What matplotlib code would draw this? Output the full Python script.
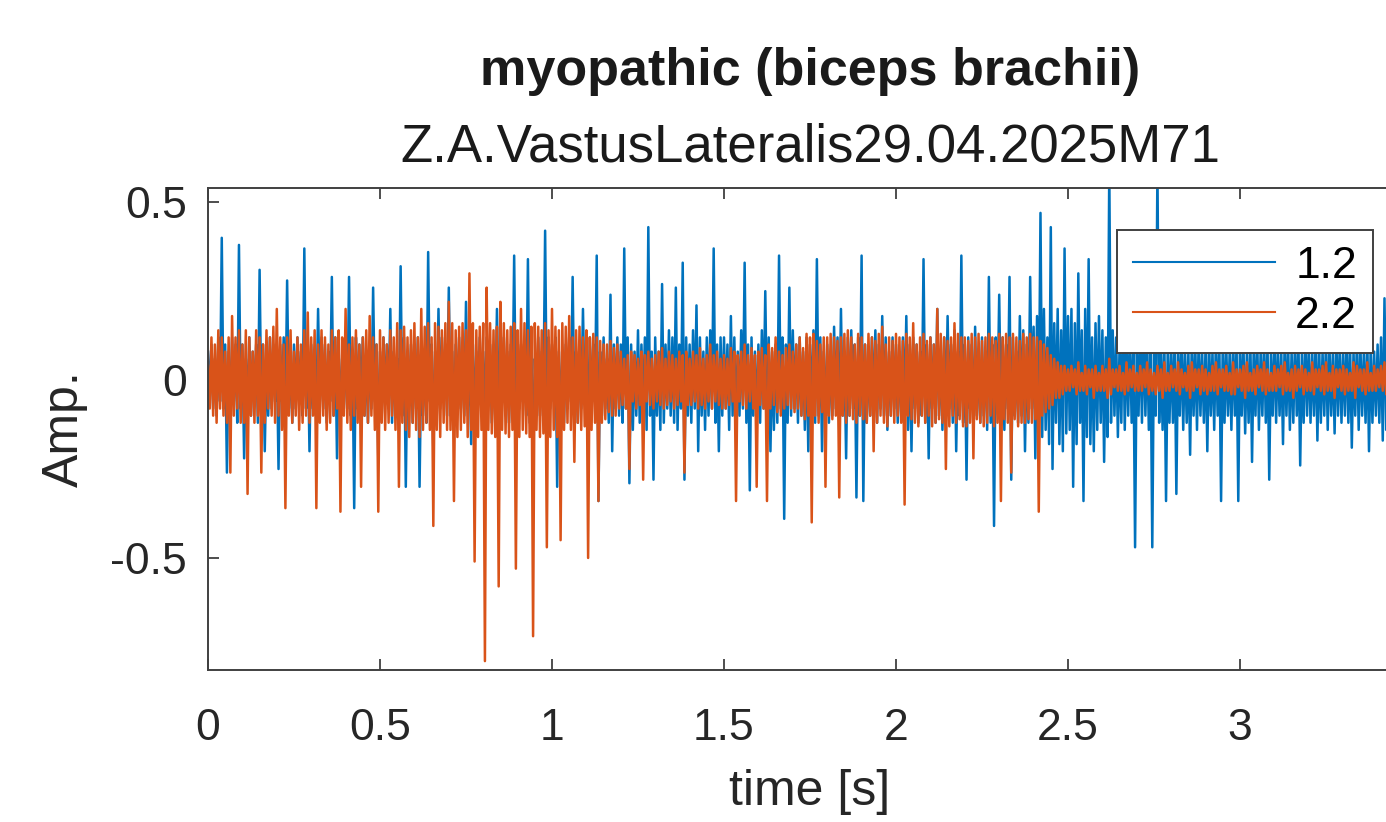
import numpy as np
import matplotlib
matplotlib.use("Agg")
import matplotlib.pyplot as plt

# --- サンプリング ---
fs = 200  # Hz (画像から読み取った値、0.1 s ごとに 1 行)

# --- チャンネル 1.2（青） ---
ch_12 = [
    0.08, -0.05, 0.10, -0.08, 0.06, -0.10, 0.12, -0.06, 0.40, -0.08, 0.10, -0.26, 0.08, -0.10, 0.12, -0.06, 0.10, -0.12, 0.38, -0.08,
    0.10, -0.22, 0.06, -0.08, 0.12, -0.10, 0.08, -0.06, 0.10, -0.12, 0.31, -0.08, 0.10, -0.20, 0.06, -0.10, 0.12, -0.08, 0.10, -0.06,
    0.08, -0.25, 0.10, -0.06, 0.12, -0.10, 0.28, -0.08, 0.06, -0.12, 0.10, -0.08, 0.12, -0.06, 0.08, -0.10, 0.37, -0.08, 0.10, -0.20,
    0.10, -0.08, 0.06, -0.10, 0.20, -0.06, 0.12, -0.08, 0.10, -0.12, 0.08, -0.06, 0.29, -0.10, 0.12, -0.22, 0.08, -0.10, 0.06, -0.08,
    0.10, -0.08, 0.29, -0.10, 0.06, -0.36, 0.12, -0.08, 0.10, -0.06, 0.12, -0.10, 0.08, -0.12, 0.10, -0.08, 0.26, -0.06, 0.10, -0.22,
    0.08, -0.10, 0.12, -0.06, 0.10, -0.08, 0.20, -0.12, 0.08, -0.10, 0.06, -0.08, 0.32, -0.10, 0.12, -0.30, 0.08, -0.06, 0.10, -0.12,
    0.10, -0.08, 0.12, -0.30, 0.06, -0.10, 0.08, -0.12, 0.36, -0.06, 0.10, -0.20, 0.08, -0.10, 0.20, -0.08, 0.12, -0.06, 0.10, -0.10,
    0.26, -0.10, 0.08, -0.12, 0.10, -0.06, 0.12, -0.08, 0.10, -0.10, 0.22, -0.08, 0.06, -0.18, 0.10, -0.12, 0.08, -0.06, 0.12, -0.10,
    0.08, -0.10, 0.12, -0.06, 0.10, -0.12, 0.08, -0.10, 0.20, -0.08, 0.10, -0.06, 0.12, -0.10, 0.08, -0.12, 0.10, -0.08, 0.35, -0.10,
    0.12, -0.08, 0.10, -0.06, 0.08, -0.10, 0.34, -0.12, 0.10, -0.25, 0.06, -0.08, 0.12, -0.10, 0.08, -0.06, 0.42, -0.10, 0.12, -0.08,
    0.10, -0.06, 0.12, -0.30, 0.08, -0.10, 0.06, -0.12, 0.10, -0.08, 0.12, -0.06, 0.29, -0.10, 0.08, -0.12, 0.10, -0.08, 0.20, -0.06,
    0.08, -0.10, 0.12, -0.08, 0.10, -0.06, 0.35, -0.34, 0.08, -0.10, 0.12, -0.08, 0.06, -0.12, 0.24, -0.20, 0.10, -0.08, 0.12, -0.10,
    0.10, -0.12, 0.37, -0.08, 0.12, -0.29, 0.10, -0.14, 0.08, -0.10, 0.14, -0.12, 0.10, -0.08, 0.12, -0.14, 0.43, -0.10, 0.08, -0.28,
    0.12, -0.10, 0.08, -0.14, 0.27, -0.12, 0.10, -0.08, 0.14, -0.10, 0.12, -0.12, 0.26, -0.14, 0.10, -0.08, 0.33, -0.28, 0.12, -0.10,
    0.10, -0.12, 0.14, -0.08, 0.21, -0.20, 0.12, -0.10, 0.08, -0.14, 0.12, -0.10, 0.14, -0.08, 0.37, -0.12, 0.10, -0.20, 0.12, -0.10,
    0.12, -0.08, 0.10, -0.14, 0.18, -0.10, 0.12, -0.12, 0.08, -0.10, 0.14, -0.08, 0.33, -0.12, 0.10, -0.31, 0.12, -0.10, 0.08, -0.14,
    0.10, -0.12, 0.14, -0.08, 0.25, -0.10, 0.12, -0.20, 0.08, -0.14, 0.10, -0.12, 0.35, -0.08, 0.12, -0.39, 0.10, -0.12, 0.26, -0.10,
    0.14, -0.08, 0.10, -0.12, 0.12, -0.10, 0.08, -0.14, 0.12, -0.20, 0.10, -0.08, 0.14, -0.12, 0.34, -0.10, 0.12, -0.20, 0.08, -0.12,
    0.10, -0.12, 0.08, -0.10, 0.15, -0.08, 0.12, -0.14, 0.20, -0.10, 0.08, -0.22, 0.12, -0.10, 0.14, -0.08, 0.10, -0.33, 0.12, -0.10,
    0.35, -0.34, 0.10, -0.12, 0.08, -0.10, 0.12, -0.08, 0.14, -0.12, 0.10, -0.08, 0.18, -0.10, 0.12, -0.14, 0.08, -0.10, 0.12, -0.08,
    0.10, -0.12, 0.08, -0.10, 0.12, -0.08, 0.18, -0.14, 0.10, -0.20, 0.12, -0.08, 0.10, -0.12, 0.08, -0.10, 0.34, -0.12, 0.10, -0.22,
    0.12, -0.08, 0.10, -0.12, 0.20, -0.10, 0.08, -0.14, 0.12, -0.10, 0.18, -0.08, 0.10, -0.12, 0.14, -0.20, 0.08, -0.10, 0.35, -0.12,
    0.10, -0.28, 0.12, -0.08, 0.10, -0.14, 0.15, -0.10, 0.08, -0.12, 0.12, -0.10, 0.08, -0.14, 0.29, -0.12, 0.10, -0.41, 0.12, -0.08,
    0.24, -0.10, 0.12, -0.14, 0.10, -0.08, 0.29, -0.28, 0.12, -0.10, 0.08, -0.12, 0.18, -0.10, 0.14, -0.20, 0.10, -0.12, 0.29, -0.08,
    0.15, -0.22, 0.18, -0.12, 0.47, -0.16, 0.20, -0.14, 0.12, -0.18, 0.43, -0.25, 0.16, -0.12, 0.20, -0.18, 0.14, -0.20, 0.37, -0.15,
    0.18, -0.14, 0.20, -0.30, 0.16, -0.18, 0.30, -0.12, 0.14, -0.34, 0.20, -0.16, 0.34, -0.18, 0.12, -0.20, 0.16, -0.14, 0.18, -0.12,
    0.14, -0.23, 0.12, -0.16, 0.60, -0.12, 0.14, -0.10, 0.12, -0.16, 0.10, -0.12, 0.20, -0.14, 0.12, -0.10, 0.14, -0.12, 0.10, -0.47,
    0.12, -0.10, 0.14, -0.12, 0.15, -0.10, 0.12, -0.14, 0.10, -0.47, 0.12, -0.10, 0.60, -0.12, 0.10, -0.14, 0.12, -0.34, 0.10, -0.12,
    0.10, -0.12, 0.12, -0.32, 0.10, -0.10, 0.12, -0.14, 0.10, -0.12, 0.08, -0.21, 0.12, -0.10, 0.10, -0.14, 0.12, -0.10, 0.08, -0.12,
    0.10, -0.20, 0.12, -0.10, 0.08, -0.14, 0.12, -0.10, 0.10, -0.34, 0.12, -0.12, 0.10, -0.10, 0.08, -0.14, 0.12, -0.10, 0.10, -0.34,
    0.12, -0.10, 0.10, -0.15, 0.08, -0.12, 0.12, -0.23, 0.10, -0.10, 0.12, -0.14, 0.08, -0.10, 0.12, -0.12, 0.10, -0.28, 0.08, -0.10,
    0.12, -0.12, 0.10, -0.10, 0.08, -0.18, 0.12, -0.10, 0.10, -0.14, 0.08, -0.12, 0.12, -0.10, 0.10, -0.24, 0.08, -0.12, 0.12, -0.10,
    0.10, -0.12, 0.08, -0.10, 0.12, -0.17, 0.10, -0.12, 0.08, -0.10, 0.12, -0.14, 0.10, -0.10, 0.08, -0.15, 0.12, -0.10, 0.10, -0.12,
    0.08, -0.10, 0.12, -0.12, 0.10, -0.19, 0.08, -0.10, 0.12, -0.14, 0.10, -0.10, 0.08, -0.12, 0.12, -0.20, 0.10, -0.12, 0.08, -0.10,
    0.10, -0.12, 0.12, -0.17, 0.23, -0.14, 0.10, -0.12, 0.08, -0.10, 0.12, -0.12, 0.10, -0.10, 0.08, -0.12, 0.10, -0.10, 0.12, -0.08,
]

# --- チャンネル 2.2（オレンジ） ---
ch_22 = [
    0.04, -0.08, 0.12, -0.10, 0.10, -0.12, 0.14, -0.08, 0.12, -0.10, 0.08, -0.12, 0.12, -0.26, 0.18, -0.10, 0.12, -0.08, 0.14, -0.12,
    0.10, -0.12, 0.14, -0.32, 0.12, -0.10, 0.08, -0.12, 0.14, -0.10, 0.12, -0.26, 0.10, -0.12, 0.14, -0.08, 0.12, -0.10, 0.15, -0.12,
    0.20, -0.10, 0.12, -0.14, 0.10, -0.36, 0.12, -0.10, 0.14, -0.12, 0.08, -0.10, 0.12, -0.14, 0.10, -0.12, 0.14, -0.10, 0.19, -0.12,
    0.12, -0.10, 0.14, -0.36, 0.10, -0.12, 0.14, -0.10, 0.12, -0.14, 0.10, -0.12, 0.14, -0.10, 0.12, -0.08, 0.14, -0.37, 0.12, -0.10,
    0.20, -0.12, 0.10, -0.14, 0.12, -0.10, 0.14, -0.12, 0.10, -0.30, 0.12, -0.10, 0.14, -0.12, 0.18, -0.10, 0.12, -0.14, 0.10, -0.37,
    0.14, -0.12, 0.12, -0.14, 0.10, -0.12, 0.14, -0.10, 0.12, -0.14, 0.16, -0.30, 0.14, -0.12, 0.15, -0.14, 0.12, -0.16, 0.14, -0.12,
    0.16, -0.14, 0.12, -0.16, 0.20, -0.14, 0.15, -0.12, 0.16, -0.14, 0.12, -0.41, 0.16, -0.14, 0.15, -0.16, 0.14, -0.12, 0.16, -0.14,
    0.22, -0.14, 0.16, -0.34, 0.14, -0.16, 0.15, -0.14, 0.16, -0.12, 0.14, -0.16, 0.30, -0.14, 0.16, -0.51, 0.14, -0.16, 0.15, -0.14,
    0.16, -0.79, 0.26, -0.14, 0.16, -0.15, 0.14, -0.16, 0.15, -0.58, 0.22, -0.14, 0.16, -0.15, 0.14, -0.16, 0.15, -0.14, 0.16, -0.53,
    0.14, -0.16, 0.20, -0.14, 0.16, -0.15, 0.14, -0.16, 0.15, -0.72, 0.16, -0.14, 0.15, -0.16, 0.14, -0.15, 0.16, -0.47, 0.14, -0.16,
    0.20, -0.14, 0.15, -0.16, 0.14, -0.45, 0.16, -0.14, 0.15, -0.12, 0.18, -0.14, 0.12, -0.23, 0.14, -0.12, 0.15, -0.14, 0.12, -0.13,
    0.14, -0.50, 0.12, -0.14, 0.13, -0.12, 0.12, -0.34, 0.11, -0.12, 0.10, -0.11, 0.10, -0.09, 0.11, -0.10, 0.09, -0.10, 0.10, -0.08,
    0.08, -0.07, 0.06, -0.08, 0.07, -0.25, 0.08, -0.06, 0.07, -0.08, 0.06, -0.07, 0.08, -0.28, 0.07, -0.06, 0.08, -0.07, 0.06, -0.08,
    0.07, -0.06, 0.08, -0.07, 0.09, -0.08, 0.06, -0.07, 0.08, -0.06, 0.07, -0.08, 0.06, -0.07, 0.08, -0.06, 0.07, -0.26, 0.08, -0.07,
    0.06, -0.07, 0.08, -0.06, 0.07, -0.08, 0.09, -0.07, 0.06, -0.08, 0.07, -0.06, 0.10, -0.08, 0.07, -0.06, 0.08, -0.07, 0.06, -0.08,
    0.07, -0.08, 0.06, -0.07, 0.09, -0.06, 0.08, -0.34, 0.07, -0.06, 0.08, -0.07, 0.10, -0.08, 0.07, -0.06, 0.09, -0.08, 0.07, -0.30,
    0.08, -0.07, 0.09, -0.08, 0.07, -0.34, 0.10, -0.08, 0.09, -0.07, 0.12, -0.09, 0.08, -0.10, 0.07, -0.08, 0.09, -0.07, 0.10, -0.08,
    0.08, -0.09, 0.10, -0.08, 0.12, -0.10, 0.09, -0.11, 0.13, -0.10, 0.12, -0.40, 0.13, -0.10, 0.11, -0.12, 0.10, -0.09, 0.12, -0.30,
    0.12, -0.10, 0.13, -0.11, 0.12, -0.10, 0.11, -0.33, 0.12, -0.10, 0.13, -0.12, 0.14, -0.10, 0.12, -0.11, 0.10, -0.12, 0.13, -0.10,
    0.12, -0.11, 0.10, -0.12, 0.13, -0.10, 0.12, -0.20, 0.11, -0.12, 0.13, -0.10, 0.15, -0.12, 0.10, -0.13, 0.12, -0.10, 0.11, -0.12,
    0.13, -0.10, 0.12, -0.12, 0.11, -0.35, 0.13, -0.10, 0.12, -0.11, 0.16, -0.12, 0.10, -0.13, 0.12, -0.10, 0.13, -0.12, 0.11, -0.10,
    0.12, -0.13, 0.10, -0.12, 0.20, -0.11, 0.13, -0.12, 0.12, -0.25, 0.11, -0.13, 0.12, -0.10, 0.16, -0.12, 0.13, -0.11, 0.12, -0.13,
    0.12, -0.13, 0.11, -0.12, 0.13, -0.22, 0.12, -0.11, 0.13, -0.12, 0.11, -0.13, 0.12, -0.12, 0.13, -0.10, 0.12, -0.13, 0.11, -0.12,
    0.13, -0.34, 0.12, -0.11, 0.13, -0.12, 0.12, -0.26, 0.13, -0.11, 0.12, -0.13, 0.11, -0.12, 0.13, -0.12, 0.12, -0.11, 0.13, -0.12,
    0.12, -0.11, 0.12, -0.37, 0.11, -0.10, 0.10, -0.09, 0.09, -0.08, 0.07, -0.07, 0.06, -0.05, 0.05, -0.05, 0.04, -0.04, 0.04, -0.03,
    0.03, -0.03, 0.04, -0.02, 0.03, -0.04, 0.05, -0.03, 0.02, -0.03, 0.04, -0.04, 0.03, -0.02, 0.03, -0.05, 0.04, -0.03, 0.02, -0.03,
    0.04, -0.03, 0.03, -0.05, 0.06, -0.04, 0.03, -0.02, 0.03, -0.03, 0.04, -0.03, 0.02, -0.04, 0.05, -0.03, 0.03, -0.02, 0.04, -0.03,
    0.02, -0.03, 0.04, -0.03, 0.03, -0.02, 0.05, -0.04, 0.03, -0.03, 0.02, -0.04, 0.04, -0.03, 0.03, -0.05, 0.05, -0.03, 0.02, -0.03,
    0.04, -0.02, 0.03, -0.03, 0.05, -0.04, 0.03, -0.02, 0.02, -0.03, 0.04, -0.05, 0.05, -0.03, 0.03, -0.02, 0.03, -0.04, 0.04, -0.03,
    0.03, -0.04, 0.02, -0.03, 0.04, -0.03, 0.05, -0.04, 0.03, -0.02, 0.03, -0.03, 0.04, -0.03, 0.02, -0.04, 0.05, -0.04, 0.03, -0.02,
    0.03, -0.03, 0.04, -0.05, 0.05, -0.03, 0.02, -0.03, 0.03, -0.04, 0.04, -0.02, 0.03, -0.03, 0.05, -0.04, 0.03, -0.03, 0.02, -0.03,
    0.04, -0.03, 0.03, -0.02, 0.04, -0.04, 0.05, -0.03, 0.02, -0.03, 0.03, -0.05, 0.04, -0.03, 0.03, -0.02, 0.04, -0.04, 0.03, -0.03,
    0.02, -0.03, 0.05, -0.04, 0.03, -0.02, 0.03, -0.03, 0.04, -0.04, 0.05, -0.03, 0.02, -0.03, 0.04, -0.05, 0.03, -0.02, 0.03, -0.03,
    0.04, -0.04, 0.03, -0.03, 0.02, -0.03, 0.05, -0.05, 0.04, -0.02, 0.03, -0.03, 0.03, -0.04, 0.05, -0.03, 0.02, -0.03, 0.04, -0.03,
    0.03, -0.02, 0.04, -0.03, 0.05, -0.04, 0.03, -0.03, 0.02, -0.03, 0.04, -0.04, 0.03, -0.02, 0.03, -0.03, 0.04, -0.05, 0.03, -0.03,
]

labels = ["1.2", "2.2"]
title_main = "myopathic (biceps brachii)"
title_sub = "Z.A.VastusLateralis29.04.2025M71"
x_ticks = [0, 0.5, 1, 1.5, 2, 2.5, 3, 3.5]
x_ticklabels = ["0", "0.5", "1", "1.5", "2", "2.5", "3", ""]
y_ticks = [-0.5, 0, 0.5]
y_ticklabels = ["-0.5", "0", "0.5"]

t = np.arange(len(ch_12)) / fs

plt.rcParams['font.family'] = ['Liberation Sans', 'DejaVu Sans']

W, H = 1386, 822
fig = plt.figure(figsize=(W / 100, H / 100), dpi=100)
# MATLAB 風の軸（右端は画像外まで伸びる）
ax = fig.add_axes([208 / W, 1 - 670 / H, (1412 - 208) / W, (670 - 188) / H])

ax.plot(t, ch_12, color='#0072BD', lw=1.8, label=labels[0])
ax.plot(t, ch_22, color='#D95319', lw=1.8, label=labels[1])

ax.set_xlim(0, 3.5)
ax.set_ylim(-0.815, 0.54)
ax.set_xticks(x_ticks)
ax.set_xticklabels(x_ticklabels)
ax.set_yticks(y_ticks)
ax.set_yticklabels(y_ticklabels)

for s in ax.spines.values():
    s.set_color('#404040')
    s.set_linewidth(1.4)
ax.tick_params(direction='in', length=8, width=1.3, color='#404040',
               top=True, right=True, labelsize=32, labelcolor='#262626')
ax.tick_params(axis='x', pad=27)
ax.tick_params(axis='y', pad=15)

ax.set_xlabel("time [s]", fontsize=36, color='#262626', labelpad=15)
ax.set_ylabel("Amp.", fontsize=36, color='#262626', labelpad=16)

cx = (208 + 1412) / 2 / W
fig.text(cx, 1 - 72 / H, title_main, ha='center', va='center',
         fontsize=37.5, fontweight='bold', color='#1a1a1a')
fig.text(cx, 1 - 148 / H, title_sub, ha='center', va='center',
         fontsize=38, color='#1a1a1a')

leg = ax.legend(loc='upper left', bbox_to_anchor=(1117 / W, 1 - 230 / H),
                bbox_transform=fig.transFigure, borderaxespad=0,
                fontsize=32, handlelength=3.2, handletextpad=0.45,
                labelspacing=0.2, borderpad=0.36, fancybox=False,
                framealpha=1, edgecolor='#404040')
leg.get_frame().set_linewidth(1.4)
for line in leg.get_lines():
    line.set_linewidth(1.5)

fig.savefig("out.png", dpi=100)
